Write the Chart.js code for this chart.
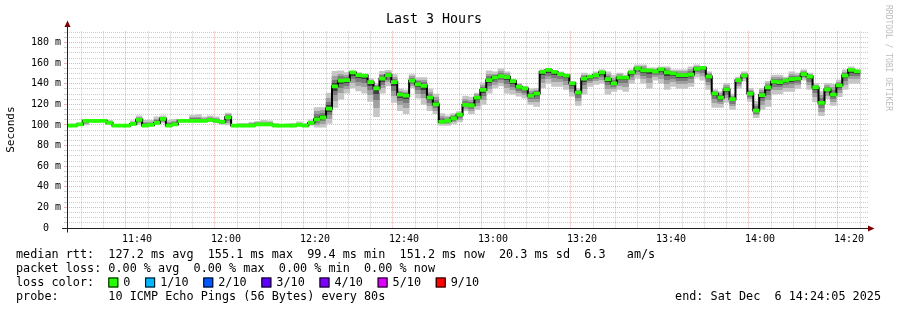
<!DOCTYPE html>
<html>
<head>
<meta charset="utf-8">
<title>Last 3 Hours</title>
<script src="https://cdn.jsdelivr.net/npm/chart.js@4/dist/chart.umd.min.js"></script>
<style>
  html, body { margin: 0; padding: 0; background: #fff; }
</style>
</head>
<body>
<canvas id="myCanvas" width="897" height="310"></canvas>
<script>
// median rtt per 80s step, in ms
const medianRtt = [
  99.5, 99.5, 100.5, 104, 104, 104, 104, 102, 99.5, 99.5,
  99.5, 101, 105, 99.5, 100, 102, 106, 99.5, 100.5, 104,
  104, 104, 104, 104, 105, 104, 103, 107.5, 99.5, 99.5,
  99.5, 99.5, 100.5, 100.5, 100.5, 99.5, 99.5, 99.5, 99.5, 100,
  99.4, 102, 105.5, 107.5, 116, 137.5, 143, 143.5, 151, 148.5,
  148, 141.5, 135.5, 145, 148.5, 141.5, 129.5, 128.5, 143, 139.5,
  138, 126.5, 120, 103, 104, 106.5, 110, 119.5, 119, 126.5,
  134, 143.5, 146, 147.5, 146.5, 142.5, 137, 135.5, 128.5, 130.5,
  151.5, 153.5, 151.5, 149.5, 148, 140.5, 131.5, 145, 147, 148.5,
  151, 144.5, 140.5, 146, 146, 151, 155, 153, 153, 152,
  154, 151, 150, 148.5, 148.5, 149, 154.5, 155.5, 147, 130.5,
  126.5, 134.5, 125, 143.5, 148, 130.5, 114, 129, 136.5, 142,
  141.5, 143, 144.5, 145, 149.5, 147, 136.5, 121.5, 134.5, 129.5,
  138.5, 148, 153.5, 152
];

// smoke: fastest and slowest ping of each step
const smokeLow = [
  99.4, 99.5, 100, 100, 103.5, 103.5, 103.5, 101, 99.4, 99.4,
  99.4, 99.5, 100.5, 99.4, 100, 101, 102, 99.5, 100, 103.5,
  103.5, 103.5, 103.5, 103.5, 103.5, 102, 100.5, 100, 99.4, 99.4,
  99.4, 99.5, 99.5, 100, 100, 99.4, 99.4, 99.4, 99.4, 99.5,
  99.4, 99.5, 98, 98, 101.5, 117, 125, 131, 136, 133,
  131, 123, 108, 131, 138, 122, 114, 111, 136, 126,
  120, 114, 111, 99.5, 99.5, 101, 103, 114, 111, 115,
  120, 131, 136, 138, 131, 130, 128, 126, 120, 118,
  136, 140.5, 137.5, 137.5, 134.5, 128, 119, 130, 137.5, 139.5,
  140.5, 130, 132.5, 134.5, 132.5, 140.5, 145.5, 140.5, 135.5, 143.5,
  140.5, 134.5, 137.5, 135.5, 135.5, 137.5, 146.5, 143.5, 134.5, 117,
  117, 122, 115, 135.5, 142.5, 123, 107, 115, 118, 130,
  130.5, 132.5, 132.5, 135.5, 143.5, 134.5, 122.5, 109, 125.5, 119,
  127.5, 134.5, 140.5, 140.5
];
const smokeHigh = [
  100.5, 101, 102, 104.5, 105, 105, 105, 104.5, 100.5, 100.5,
  100.5, 104, 109, 104.5, 104.5, 108, 109, 104.5, 105.5, 105,
  105.5, 109.5, 110, 108, 109, 108, 104, 111.5, 100.5, 101.5,
  101.5, 102.5, 103.5, 104.5, 104, 101.5, 100.5, 101, 101.5, 103,
  101.5, 105, 117, 117, 131, 152, 152.5, 151, 152, 151,
  149, 145, 140, 152, 153, 149, 135, 134, 149, 146,
  146, 135, 130, 111, 109, 111, 113, 128, 127, 131,
  141, 152.5, 151.5, 154.5, 151.5, 144.5, 140.5, 137.5, 135, 135.5,
  153.5, 154.5, 152.5, 151.5, 148.5, 142.5, 135.5, 150.5, 148.5, 151.5,
  153.5, 151.5, 148.5, 150.5, 148.5, 153.5, 158.5, 158.5, 155.5, 155.5,
  156.5, 156.5, 153.5, 153.5, 153.5, 156.5, 158.5, 156.5, 151.5, 134.5,
  132.5, 140.5, 130, 146.5, 151.5, 135.5, 123, 135.5, 142.5, 148.5,
  148.5, 146.5, 151.5, 150.5, 153.5, 150.5, 140.5, 132.5, 140.5, 139.5,
  143.5, 153.5, 156.5, 153.5
];

const timeTicks = ['11:40', '12:00', '12:20', '12:40', '13:00', '13:20', '13:40', '14:00', '14:20'];
const rttTicks = [0, 20, 40, 60, 80, 100, 120, 140, 160, 180];

const lossLabels = ['0', '1/10', '2/10', '3/10', '4/10', '5/10', '9/10'];
const lossColors = ['#26ff00', '#00b8ff', '#0059ff', '#5e00ff', '#7e00ff', '#dd00ff', '#ff0000'];

const legendLines = [
  'median rtt:  127.2 ms avg  155.1 ms max  99.4 ms min  151.2 ms now  20.3 ms sd  6.3   am/s',
  'packet loss: 0.00 % avg  0.00 % max  0.00 % min  0.00 % now',
  'loss color:',
  'probe:       10 ICMP Echo Pings (56 Bytes) every 80s'
];
const endText = 'end: Sat Dec  6 14:24:05 2025';

// time in minutes after midnight
const firstStep = 683.8;
const stepMinutes = 80 / 60;
const viewStart = 684.25;
const viewEnd = 864.25;

const MONO = "'DejaVu Sans Mono', monospace";
const majorMinutes = timeTicks.map(t => {
  const p = t.split(':');
  return +p[0] * 60 + +p[1];
});
const stepX = i => firstStep + (i + 0.5) * stepMinutes;

function smokeFill(context) {
  const chart = context.chart;
  const i = context.dataIndex;
  if (context.type !== 'data' || !chart.chartArea) return '#c8c8c8';
  const y = chart.scales.y;
  const top = y.getPixelForValue(smokeHigh[i]);
  const bot = y.getPixelForValue(smokeLow[i]);
  const mid = y.getPixelForValue(medianRtt[i]);
  if (bot - top < 2) return '#8a8a8a';
  const t = Math.min(Math.max((mid - top) / (bot - top), 0), 1);
  const d = 1 - t;
  const g = chart.ctx.createLinearGradient(0, top, 0, bot);
  const stops = [
    [0, '#c6c6c6'], [0.3 * t, '#c6c6c6'], [0.3 * t, '#a0a0a0'], [0.55 * t, '#a0a0a0'],
    [0.55 * t, '#7a7a7a'], [0.8 * t, '#7a7a7a'], [0.8 * t, '#3e3e3e'],
    [t + 0.2 * d, '#3e3e3e'], [t + 0.2 * d, '#7a7a7a'], [t + 0.42 * d, '#7a7a7a'],
    [t + 0.42 * d, '#a0a0a0'], [t + 0.68 * d, '#a0a0a0'], [t + 0.68 * d, '#c6c6c6'], [1, '#c6c6c6']
  ];
  stops.forEach(s => g.addColorStop(Math.min(Math.max(s[0], 0), 1), s[1]));
  return g;
}

const gridColor = (ctx, majors) => {
  const v = ctx.tick ? ctx.tick.value : null;
  return majors.includes(v) ? 'rgba(222, 80, 80, 0.45)' : 'rgba(143, 143, 143, 0.45)';
};

const decorations = {
  id: 'decorations',
  afterDraw(chart) {
    const ctx = chart.ctx;
    const area = chart.chartArea;
    ctx.save();

    // axes
    const ax = Math.round(area.left) + 0.5;
    const ay = Math.round(area.bottom) + 0.5;
    ctx.strokeStyle = '#222';
    ctx.lineWidth = 1;
    ctx.beginPath();
    ctx.moveTo(ax, ay + 4);
    ctx.lineTo(ax, 26);
    ctx.moveTo(62, ay);
    ctx.lineTo(868, ay);
    ctx.stroke();
    ctx.fillStyle = '#7f0000';
    ctx.beginPath();
    ctx.moveTo(ax, 20.5);
    ctx.lineTo(ax - 3, 27);
    ctx.lineTo(ax + 3, 27);
    ctx.closePath();
    ctx.fill();
    ctx.beginPath();
    ctx.moveTo(874.5, ay);
    ctx.lineTo(868, ay - 3);
    ctx.lineTo(868, ay + 3);
    ctx.closePath();
    ctx.fill();

    // legend text
    ctx.font = '11.8px ' + MONO;
    ctx.fillStyle = '#000';
    ctx.textBaseline = 'middle';
    ctx.textAlign = 'left';
    const lineY = [254.5, 268.5, 282.5, 296.5];
    legendLines.forEach((line, i) => ctx.fillText(line, 16, lineY[i]));
    const cw = ctx.measureText('0').width;
    let bx = 16 + 13 * cw;
    lossLabels.forEach((label, i) => {
      ctx.fillStyle = lossColors[i];
      ctx.fillRect(bx, lineY[2] - 5, 10, 10);
      ctx.strokeStyle = '#000';
      ctx.strokeRect(bx + 0.5, lineY[2] - 4.5, 9, 9);
      ctx.fillStyle = '#000';
      const tx = bx + 15;
      ctx.fillText(label, tx, lineY[2]);
      bx = tx + ctx.measureText(label).width + 2 * cw + 0.5;
    });
    ctx.textAlign = 'right';
    ctx.fillText(endText, 881, lineY[3]);

    // credit on the right edge
    ctx.translate(888, 5);
    ctx.rotate(Math.PI / 2);
    ctx.font = '8px ' + MONO;
    ctx.fillStyle = '#bdbdbd';
    ctx.textAlign = 'left';
    ctx.fillText('RRDTOOL / TOBI OETIKER', 0, 0);
    ctx.restore();
  }
};

const canvas = document.getElementById('myCanvas');
new Chart(canvas, {
  type: 'bar',
  data: {
    datasets: [
      {
        type: 'bar',
        label: 'median',
        order: 0,
        grouped: false,
        data: medianRtt.map((m, i) => ({ x: stepX(i), y: [m - 1.5, m + 1.5] })),
        backgroundColor: '#26ff00',
        borderWidth: 0,
        barPercentage: 1,
        categoryPercentage: 1,
      },
      {
        type: 'line',
        label: 'median line',
        order: 1,
        data: medianRtt.map((m, i) => ({ x: stepX(i), y: m })),
        borderColor: '#000',
        borderWidth: 2,
        stepped: 'middle',
        pointRadius: 0,
        fill: false,
      },
      {
        type: 'bar',
        label: 'smoke',
        order: 2,
        grouped: false,
        data: smokeLow.map((lo, i) => ({ x: stepX(i), y: [lo, smokeHigh[i]] })),
        backgroundColor: smokeFill,
        borderWidth: 0,
        barPercentage: 1,
        categoryPercentage: 1,
      },
    ],
  },
  options: {
    responsive: false,
    animation: false,
    devicePixelRatio: 1,
    events: [],
    layout: { padding: { left: 0, right: 29, top: 0, bottom: 0 } },
    plugins: {
      legend: { display: false },
      tooltip: { enabled: false },
      title: {
        display: true,
        text: 'Last 3 Hours',
        color: '#000',
        font: { family: MONO, size: 13.3, weight: 'normal' },
        padding: { top: 12, bottom: 3.3 },
      },
    },
    scales: {
      x: {
        type: 'linear',
        min: viewStart,
        max: viewEnd,
        offset: false,
        afterBuildTicks: scale => {
          const ticks = [];
          for (let m = Math.ceil(viewStart / 5) * 5; m <= viewEnd; m += 5) ticks.push({ value: m });
          scale.ticks = ticks;
        },
        afterFit: scale => { scale.height = 82; },
        border: { display: false, dash: [1, 1] },
        grid: {
          color: ctx => gridColor(ctx, majorMinutes),
          drawTicks: false,
        },
        ticks: {
          autoSkip: false,
          maxRotation: 0,
          padding: 5,
          color: '#000',
          font: { family: MONO, size: 10 },
          callback: value => {
            const k = majorMinutes.indexOf(value);
            return k >= 0 ? timeTicks[k] : '';
          },
        },
      },
      y: {
        type: 'linear',
        min: 0,
        max: 191,
        afterBuildTicks: scale => {
          const ticks = [];
          for (let v = 0; v <= 190; v += 5) ticks.push({ value: v });
          scale.ticks = ticks;
        },
        afterFit: scale => { scale.width = 67; },
        border: { display: false, dash: [1, 1] },
        grid: {
          color: ctx => gridColor(ctx, rttTicks),
          tickColor: ctx => gridColor(ctx, rttTicks),
          tickLength: 3,
          drawTicks: true,
        },
        title: {
          display: true,
          text: 'Seconds',
          color: '#000',
          font: { family: MONO, size: 11 },
          padding: { top: 5, bottom: 0 },
        },
        ticks: {
          autoSkip: false,
          padding: 3,
          color: '#000',
          font: { family: MONO, size: 10 },
          callback: value => rttTicks.includes(value) ? (value === 0 ? '0  ' : value + ' m') : '',
        },
      },
    },
  },
  plugins: [decorations],
});
</script>
</body>
</html>
